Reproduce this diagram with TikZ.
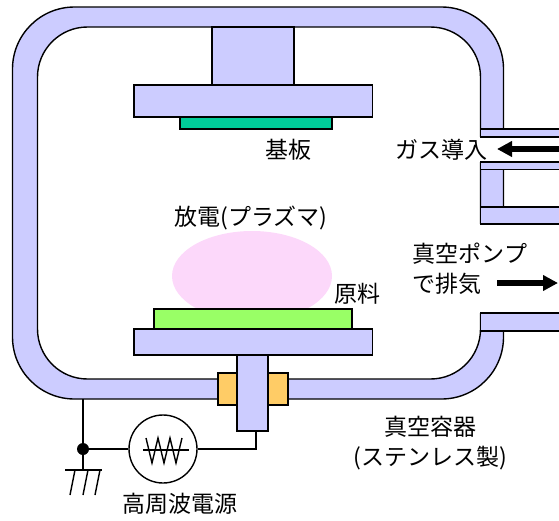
\documentclass[tikz,border=0pt]{standalone}
\usepackage{fontspec}
\newfontfamily\jpfont{Noto Sans CJK JP}
\usetikzlibrary{arrows.meta,calc}
\definecolor{wall}{RGB}{204,204,255}
\definecolor{subst}{RGB}{0,204,153}
\definecolor{feed}{RGB}{153,255,102}
\definecolor{insul}{RGB}{255,204,102}
\definecolor{plasma}{RGB}{252,216,250}
\tikzset{
  part/.style={draw=black, line width=1.4pt},
  wire/.style={draw=black, line width=1.4pt},
  lbl/.style={font=\jpfont\fontsize{23}{26}\selectfont, inner sep=0pt},
  flow/.style={line width=6.5pt, -{Triangle[length=15pt,width=15pt]}}
}
\begin{document}
\begin{tikzpicture}[x=1pt,y=-1pt]
\useasboundingbox (0,0) rectangle (559,520);

% vessel wall: outer and inner contours
\path[part, fill=wall, even odd rule]
  [rounded corners=62pt] (12.5,7) rectangle (503.5,399)
  [rounded corners=50pt] (37.5,27) rectangle (480.5,379);

% openings for the gas inlet and the exhaust port
\fill[white] (477,137) rectangle (507,162);
\fill[white] (477,224) rectangle (507,313);

% pipe walls
\draw[part, fill=wall] (480.5,129) rectangle (565,137);
\draw[part, fill=wall] (480.5,162) rectangle (565,169.5);
\draw[part, fill=wall] (480.5,207) rectangle (565,224);
\draw[part, fill=wall] (480.5,313) rectangle (565,331);

% upper electrode with substrate
\draw[part, fill=wall] (212,27) rectangle (294,85);
\draw[part, fill=wall] (134,85) rectangle (372.5,117);
\draw[part, fill=subst] (180,117) rectangle (332,129);

% plasma
\fill[plasma] (252,276) ellipse [x radius=80, y radius=45];

% lower electrode with source material
\draw[part, fill=insul] (218,373) rectangle (237,405);
\draw[part, fill=insul] (268,373) rectangle (288,405);
\draw[part, fill=wall] (237,355) rectangle (268,431);
\coordinate (stem) at (256,431);
\draw[part, fill=wall] (134,329) rectangle (372.5,355);
\draw[part, fill=feed] (154,309) rectangle (352,329);

% RF source and wiring
\node[circle, draw, line width=1.4pt, minimum size=68pt, inner sep=0pt] (rf) at (163,449) {};
\coordinate (gnd) at (83,449);
\coordinate (wallpt) at (83,399);
\coordinate (bar) at (83,470);
\draw[wire] (wallpt) -- (gnd) -- (bar);
\draw[wire] (gnd) -- (rf.west);
\draw[wire] (rf.east) -| (stem);
\fill (gnd) circle (6pt);
\draw[wire] ($(bar)+(-18,0)$) -- ($(bar)+(19,0)$);
\draw[wire] ($(bar)+(-8,0)$) -- ++(-5,25);
\draw[wire] ($(bar)+(5,0)$) -- ++(-5,25);
\draw[wire] ($(bar)+(17,0)$) -- ++(-5,25);
% AC symbol inside the source
\draw[wire] ($(rf)+(-20,1)$) -- ($(rf)+(26,1)$);
\draw[line width=1.4pt, line join=miter]
  ($(rf)+(-17,-11)$) -- ++(6,25) -- ++(6,-25) -- ++(6,25)
  -- ++(6,-25) -- ++(6,25) -- ++(6,-25);

% gas flow arrows
\coordinate (gasin) at (562,149);
\coordinate (gastip) at (497,149);
\draw[flow] (gasin) -- (gastip);
\coordinate (exfrom) at (497,283);
\coordinate (exto) at (558,283);
\draw[flow] (exfrom) -- (exto);

% labels
\node[lbl] (l1) at (288,150) {基板};
\node[lbl] (l2) at (441,150) {ガス導入};
\node[lbl] (l3) at (251,218) {放電(プラズマ)};
\node[lbl] (l4) at (357,294) {原料};
\node[lbl] (l5) at (470,254) {真空ポンプ};
\node[lbl, anchor=west] (l6) at (412,284) {で排気};
\node[lbl] (l7) at (430,427) {真空容器};
\node[lbl] (l8) at (430,458) {(ステンレス製)};
\node[lbl] (l9) at (180,504) {高周波電源};
\end{tikzpicture}
\end{document}
